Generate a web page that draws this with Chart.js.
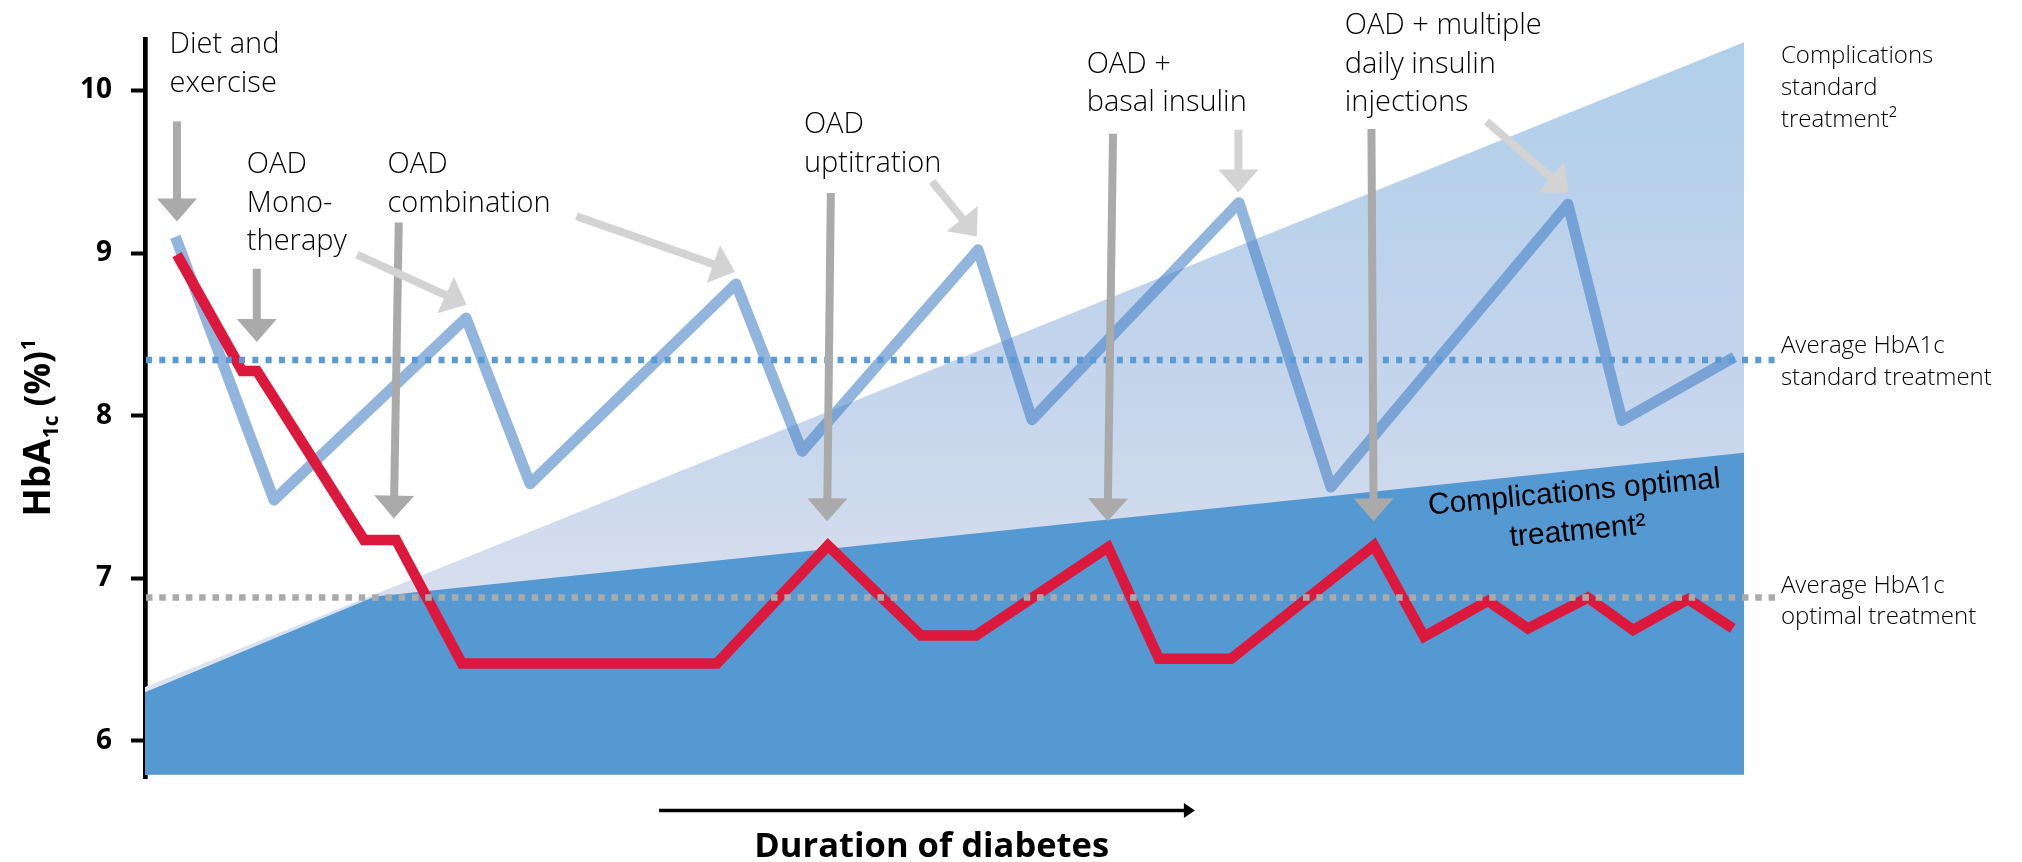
<!DOCTYPE html>
<html>
<head>
<meta charset="utf-8">
<script src="https://cdn.jsdelivr.net/npm/chart.js@4.4.1/dist/chart.umd.min.js"></script>
<style>
html,body{margin:0;padding:0;background:#fff;}
#wrap{width:2022px;height:862px;position:relative;}
</style>
</head>
<body>
<div id="wrap"><canvas id="c" width="2022" height="862"></canvas></div>
<script>
// ---------------- DATA ----------------
// x is "duration" in arbitrary units 0..100 along the axis
const yTicks = [6, 7, 8, 9, 10];

// standard treatment HbA1c (blue zigzag)
const stdX = [1.9, 8.07, 20.08, 24.08, 36.96, 41.09, 52.10, 55.47, 68.42, 74.17, 88.99, 92.37, 99.4];
const stdY = [9.10, 7.48, 8.60, 7.58, 8.81, 7.78, 9.02, 7.975, 9.31, 7.56, 9.30, 7.97, 8.36];

// optimal treatment HbA1c (red line)
const optX = [2.0, 6.07, 7.0, 13.7, 15.7, 19.82, 35.77, 42.71, 48.53, 51.97, 60.23, 63.41, 67.92, 76.86, 79.99, 83.99, 86.49, 90.24, 93.06, 96.5, 99.3];
const optY = [8.99, 8.275, 8.275, 7.235, 7.235, 6.475, 6.475, 7.20, 6.647, 6.647, 7.19, 6.503, 6.503, 7.20, 6.64, 6.86, 6.69, 6.88, 6.68, 6.87, 6.69];

// complications areas
const compStdX = [0, 100];
const compStdY = [6.33, 10.297];
const compOptX = [0, 14.38, 100];
const compOptY = [6.298, 6.886, 7.771];
const areaBase = 5.79;

// averages
const avgStd = 8.342;
const avgOpt = 6.881;
const avgLineX = [0.06, 102.0];

// annotation labels: first-line baseline at (x, y)
const topLabels = [
  {lines: ["Diet and", "exercise"], x: 1.53, y: 10.229},
  {lines: ["OAD", "Mono-", "therapy"], x: 6.37, y: 9.490},
  {lines: ["OAD", "combination"], x: 15.17, y: 9.490},
  {lines: ["OAD", "uptitration"], x: 41.21, y: 9.737},
  {lines: ["OAD +", "basal insulin"], x: 58.89, y: 10.110},
  {lines: ["OAD + multiple", "daily insulin", "injections"], x: 75.03, y: 10.346}
];
const sideLabels = [
  {lines: ["Complications", "standard", "treatment\u00B2"], x: 102.31, y: 10.167},
  {lines: ["Average HbA1c", "standard treatment"], x: 102.31, y: 8.383},
  {lines: ["Average HbA1c", "optimal treatment"], x: 102.31, y: 6.910}
];
const optAreaLabel = {lines: ["Complications optimal", "treatment\u00B2"], x: 89.43, y: 7.474};

// arrows [x1, y1, x2(tip), y2(tip)]
const darkArrows = [
  [2.0, 9.81, 2.0, 9.194],
  [6.99, 8.903, 6.99, 8.453],
  [15.87, 9.188, 15.56, 7.366],
  [42.89, 9.369, 42.66, 7.349],
  [60.54, 9.734, 60.2, 7.349],
  [76.7, 9.763, 76.84, 7.349]
];
const lightArrows = [
  [13.26, 8.99, 20.11, 8.682],
  [26.98, 9.226, 36.9, 8.885],
  [49.22, 9.44, 52.02, 9.102],
  [68.38, 9.758, 68.38, 9.373],
  [83.9, 9.81, 89.02, 9.373]
];
const durationArrow = [32.15, 65.66, 5.57];   // x from, x to, y
const durationTitle = {text: "Duration of diabetes", x: 49.2, y: 5.286};

// ---------------- HELPERS ----------------
const pts = (xs, ys) => xs.map((x, i) => ({x: x, y: ys[i]}));
const FONT = "'Open Sans', 'Liberation Sans', sans-serif";

function drawArrow(ctx, x1, y1, x2, y2, color, shaft, headLen, headW) {
  const ang = Math.atan2(y2 - y1, x2 - x1);
  const len = Math.hypot(x2 - x1, y2 - y1);
  ctx.save();
  ctx.translate(x2, y2);
  ctx.rotate(ang);
  ctx.fillStyle = color;
  ctx.fillRect(-len, -shaft / 2, len - headLen + 0.5, shaft);
  ctx.beginPath();
  ctx.moveTo(0, 0);
  ctx.lineTo(-headLen, -headW / 2);
  ctx.lineTo(-headLen, headW / 2);
  ctx.closePath();
  ctx.fill();
  ctx.restore();
}

const annotations = {
  id: 'annotations',
  afterDatasetsDraw(chart) {
    const ctx = chart.ctx;
    const xs = chart.scales.x, ys = chart.scales.y;
    const px = v => xs.getPixelForValue(v);
    const py = v => ys.getPixelForValue(v);
    ctx.save();

    // arrows
    darkArrows.forEach(a => drawArrow(ctx, px(a[0]), py(a[1]), px(a[2]), py(a[3]), '#aaaaaa', 8, 23, 40));
    lightArrows.forEach(a => drawArrow(ctx, px(a[0]), py(a[1]), px(a[2]), py(a[3]), '#d3d3d3', 8, 23, 40));

    // top annotation labels
    ctx.fillStyle = '#000';
    ctx.textAlign = 'left';
    ctx.textBaseline = 'alphabetic';
    ctx.font = '300 29px ' + FONT;
    topLabels.forEach(l => {
      l.lines.forEach((t, i) => ctx.fillText(t, px(l.x), py(l.y) + i * 38.5));
    });
    ctx.font = '300 24px ' + FONT;
    sideLabels.forEach(l => {
      l.lines.forEach((t, i) => ctx.fillText(t, px(l.x), py(l.y) + i * 31.7));
    });

    // rotated label in optimal area
    ctx.save();
    ctx.translate(px(optAreaLabel.x), py(optAreaLabel.y));
    ctx.rotate(-5.3 * Math.PI / 180);
    ctx.font = "30px 'Liberation Sans', Arial, sans-serif";
    ctx.fillStyle = '#000';
    ctx.textAlign = 'center';
    optAreaLabel.lines.forEach((t, i) => ctx.fillText(t, 0, i * 39));
    ctx.restore();

    // y axis title: HbA1c (%)1
    ctx.save();
    ctx.translate(50, (chart.chartArea.top + chart.chartArea.bottom) / 2 + 108);
    ctx.rotate(-Math.PI / 2);
    ctx.fillStyle = '#000';
    ctx.textAlign = 'left';
    let cx = 0;
    ctx.font = 'bold 37px ' + FONT;
    ctx.fillText('HbA', cx, 0); cx += ctx.measureText('HbA').width + 1;
    ctx.font = 'bold 21px ' + FONT;
    ctx.fillText('1c', cx, 8); cx += ctx.measureText('1c').width + 9;
    ctx.font = 'bold 35px ' + FONT;
    ctx.fillText('(%)', cx, 0); cx += ctx.measureText('(%)').width + 1;
    ctx.font = 'bold 20px ' + FONT;
    ctx.fillText('1', cx, -15);
    ctx.restore();

    // duration arrow
    const ay = py(durationArrow[2]);
    const ax1 = px(durationArrow[0]), ax2 = px(durationArrow[1]);
    ctx.strokeStyle = '#000';
    ctx.lineWidth = 3.3;
    ctx.beginPath();
    ctx.moveTo(ax1, ay);
    ctx.lineTo(ax2 - 8, ay);
    ctx.stroke();
    ctx.fillStyle = '#000';
    ctx.beginPath();
    ctx.moveTo(ax2, ay);
    ctx.lineTo(ax2 - 11, ay - 7.5);
    ctx.lineTo(ax2 - 11, ay + 7.5);
    ctx.closePath();
    ctx.fill();

    ctx.font = 'bold 34.5px ' + FONT;
    ctx.textAlign = 'center';
    ctx.fillText(durationTitle.text, px(durationTitle.x), py(durationTitle.y));

    ctx.restore();
  }
};

function lightGradient(c) {
  const chart = c.chart;
  if (!chart.chartArea) return 'rgba(190,210,235,1)';
  const y = chart.scales.y;
  const g = chart.ctx.createLinearGradient(0, y.getPixelForValue(10.3), 0, y.getPixelForValue(6.3));
  g.addColorStop(0, '#b1cfea');
  g.addColorStop(0.55, '#c5d5ec');
  g.addColorStop(1, '#dfe3ee');
  return g;
}

function build() {
  new Chart(document.getElementById('c'), {
    type: 'line',
    data: {
      datasets: [
        {
          label: 'Average standard',
          data: pts(avgLineX, [avgStd, avgStd]),
          borderColor: '#5b9bd5', borderWidth: 6.5, borderDash: [6, 7.3],
          borderCapStyle: 'butt', pointRadius: 0, fill: false, clip: false, order: 1
        },
        {
          label: 'Average optimal',
          data: pts(avgLineX, [avgOpt, avgOpt]),
          borderColor: '#aaaaaa', borderWidth: 6.5, borderDash: [6.5, 6.8],
          borderCapStyle: 'butt', pointRadius: 0, fill: false, clip: false, order: 2
        },
        {
          label: 'Optimal treatment',
          data: pts(optX, optY),
          borderColor: '#dc193c', borderWidth: 10.5, borderJoinStyle: 'miter',
          borderCapStyle: 'butt', pointRadius: 0, fill: false, tension: 0, order: 3
        },
        {
          label: 'Standard treatment',
          data: pts(stdX, stdY),
          borderColor: 'rgba(68,128,198,0.58)', borderWidth: 11, borderJoinStyle: 'round',
          borderCapStyle: 'butt', pointRadius: 0, fill: false, tension: 0, order: 4
        },
        {
          label: 'Complications optimal',
          data: pts(compOptX, compOptY),
          borderWidth: 0, borderColor: 'rgba(0,0,0,0)',
          backgroundColor: '#5599d2', pointRadius: 0,
          fill: {value: areaBase}, order: 5
        },
        {
          label: 'Complications standard',
          data: pts(compStdX, compStdY),
          borderWidth: 0, borderColor: 'rgba(0,0,0,0)',
          backgroundColor: lightGradient, pointRadius: 0,
          fill: {value: areaBase}, order: 6
        }
      ]
    },
    options: {
      responsive: false,
      animation: false,
      devicePixelRatio: 1,
      layout: {padding: {left: 0, top: 39, right: 278, bottom: 84}},
      plugins: {legend: {display: false}, tooltip: {enabled: false}},
      scales: {
        x: {type: 'linear', min: 0, max: 100, display: false},
        y: {
          type: 'linear', min: 5.77, max: 10.317,
          afterBuildTicks: s => { s.ticks = yTicks.map(v => ({value: v})); },
          afterFit: s => { s.width = 145; },
          ticks: {
            color: '#000', padding: 19,
            font: {family: FONT, size: 28, weight: 'bold'},
            callback: v => String(v)
          },
          grid: {drawOnChartArea: false, drawTicks: true, tickLength: 14, tickWidth: 4, tickColor: '#000'},
          border: {display: true, color: '#000', width: 4.7}
        }
      }
    },
    plugins: [annotations]
  });
}

const fontLoads = [
  "300 29px 'Open Sans'", "400 29px 'Open Sans'", "bold 29px 'Open Sans'", "30px 'Liberation Sans'"
].map(f => document.fonts.load(f).catch(() => null));
Promise.all(fontLoads).then(build, build);
</script>
</body>
</html>
